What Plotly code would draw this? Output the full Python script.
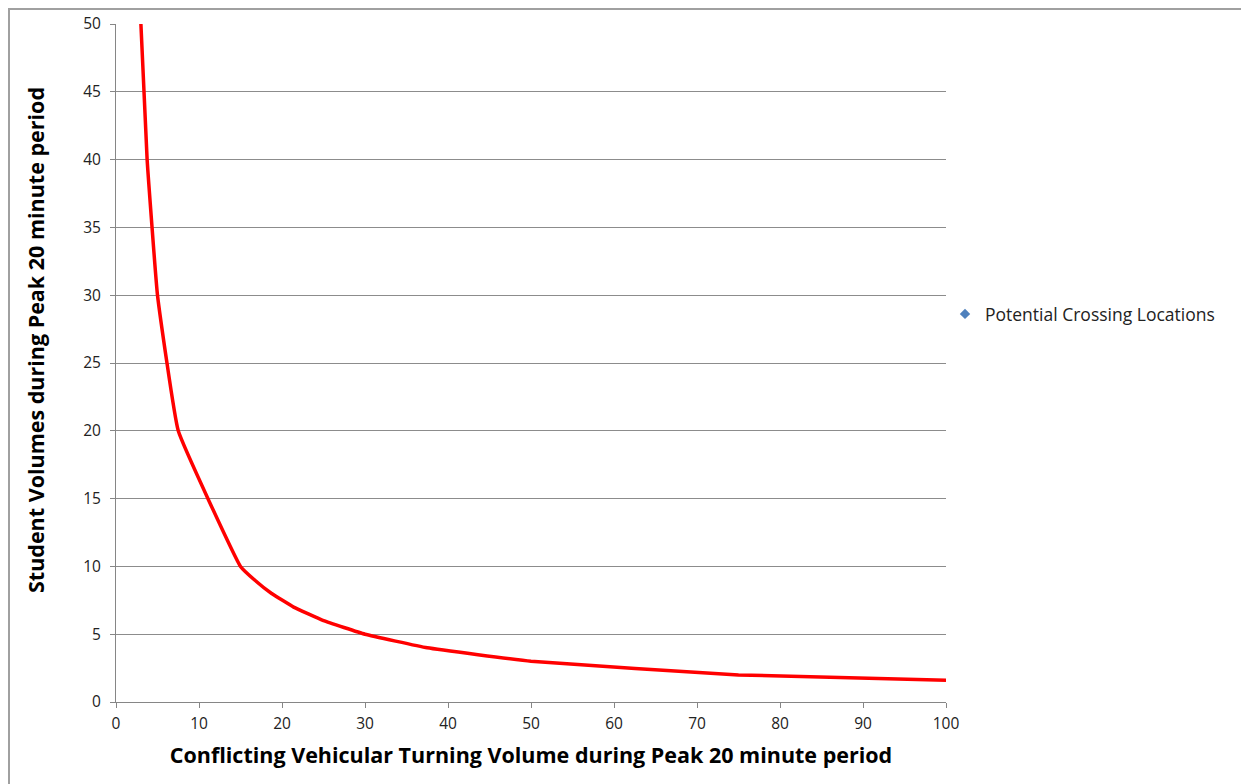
import plotly.graph_objects as go

# Data
turning_volume = [3, 3.75, 5, 7.5, 15, 16.7, 18.75, 21.4, 25, 30, 37.5, 50, 75, 100]
student_volume = [50, 40, 30, 20, 10, 9, 8, 7, 6, 5, 4, 3, 2, 1.6]

legend_name = "Potential Crossing Locations"
x_title = "Conflicting Vehicular Turning Volume during Peak 20 minute period"
y_title = "Student Volumes during Peak 20 minute period"
x_ticks = [0, 10, 20, 30, 40, 50, 60, 70, 80, 90, 100]
y_ticks = [0, 5, 10, 15, 20, 25, 30, 35, 40, 45, 50]

OFF = 8  # page body margin (figure drawn 8px in from page corner)
W, H = 1249, 784
L, R, T, B = 116 - OFF, 946 - OFF, 24 - OFF, 702 - OFF

fig = go.Figure()
fig.add_trace(go.Scatter(
    x=turning_volume, y=student_volume, mode="lines",
    line=dict(color="#ff0000", width=3.5, shape="spline", smoothing=0.3),
    showlegend=False, hoverinfo="x+y",
))
fig.add_trace(go.Scatter(
    x=[None], y=[None], mode="markers", name=legend_name,
    marker=dict(symbol="diamond", color="#4f81bd", size=8),
))

pw, ph = R - L, B - T
def px(p):  # page pixel -> paper x
    return (p - OFF - L) / pw
def py(p):  # page pixel -> paper y
    return (B - (p - OFF)) / ph

fig.update_layout(
    width=W, height=H,
    margin=dict(l=L, r=W - R, t=T, b=H - B, pad=0, autoexpand=False),
    paper_bgcolor="white", plot_bgcolor="white",
    font=dict(family="Open Sans, sans-serif", size=14, color="#000000"),
    showlegend=True,
    legend=dict(x=px(945), y=py(314), xanchor="left", yanchor="middle",
                font=dict(size=17.5, color="#222222"), bgcolor="rgba(0,0,0,0)",
                itemwidth=30),
    xaxis=dict(
        range=[0, 100], tickvals=x_ticks, showgrid=False, zeroline=False,
        showline=True, linecolor="#868686", linewidth=1, automargin=False,
        ticks="outside", ticklen=5, tickcolor="#868686", ticklabelstandoff=2,
        tickfont=dict(size=15.5, color="#222222"),
        title=dict(text="<b>" + x_title + "</b>", font=dict(size=21.5, color="#000000"), standoff=15),
        fixedrange=True,
    ),
    yaxis=dict(
        range=[0, 50], tickvals=y_ticks, showgrid=True, gridcolor="#8c8c8c", gridwidth=1,
        zeroline=False, showline=True, linecolor="#868686", linewidth=1, automargin=False,
        ticks="outside", ticklen=5, tickcolor="#868686", ticklabelstandoff=6,
        tickfont=dict(size=15.5, color="#222222"),
        fixedrange=True,
    ),
    annotations=[
        dict(text="<b>" + y_title + "</b>", textangle=-90, showarrow=False,
             xref="paper", yref="paper", x=px(35), y=py(340),
             xanchor="center", yanchor="middle",
             font=dict(size=21.5, color="#000000")),
    ],
    shapes=[
        dict(type="line", xref="paper", yref="paper", x0=px(9), x1=px(9), y0=py(8), y1=py(800),
             line=dict(color="#a0a0a0", width=2)),
        dict(type="line", xref="paper", yref="paper", x0=px(8), x1=px(1242), y0=py(9), y1=py(9),
             line=dict(color="#a0a0a0", width=2)),
        dict(type="line", xref="paper", yref="paper", x0=px(1242), x1=px(1242), y0=py(9), y1=py(800),
             line=dict(color="#a0a0a0", width=2)),
    ],
)

fig.write_html("out.html")
